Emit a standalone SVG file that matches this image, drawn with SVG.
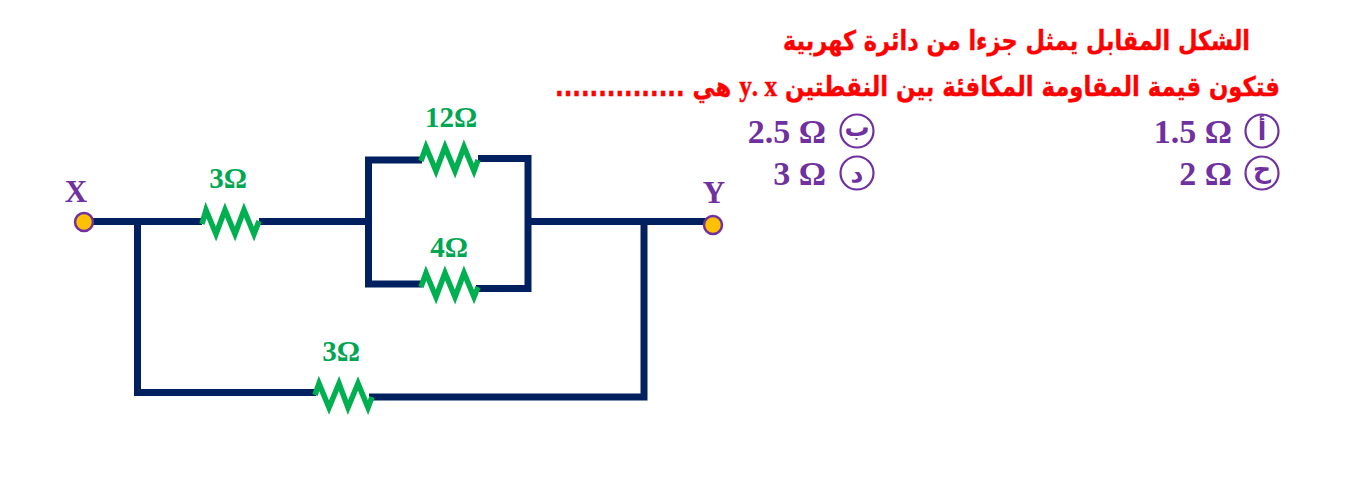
<svg xmlns="http://www.w3.org/2000/svg" width="1369" height="503" viewBox="0 0 1369 503">
<style>
.w{fill:none;stroke:#002060;stroke-width:7;stroke-linejoin:miter}
.r{fill:none;stroke:#00b050;stroke-width:5.5;stroke-linejoin:miter;stroke-miterlimit:8}
.g{font-family:"Liberation Serif",serif;font-weight:bold;font-size:29px;fill:#00a651;text-anchor:middle}
.n{font-family:"Liberation Serif",serif;font-weight:bold;font-size:31px;fill:#7030a0;text-anchor:middle}
.o{font-family:"Liberation Serif",serif;font-weight:bold;font-size:34px;fill:#7030a0;text-anchor:end}
.t{font-family:"DejaVu Sans",sans-serif;font-weight:bold;font-size:27px;fill:#ff0000;stroke:#ff0000;stroke-width:.4;text-anchor:start}
.s{font-family:"Liberation Serif",serif;font-size:30px}
.c{fill:#fff;stroke:#7030a0;stroke-width:2.2}
.l{font-family:"DejaVu Sans",sans-serif;font-weight:bold;font-size:25px;fill:#7030a0;text-anchor:middle}
.p{fill:#ffc000;stroke:#7030a0;stroke-width:2.5}
</style>
<g id="connectors">
<path class="w" d="M92 221.500H202M259 221.500H368.500M478 158.500H528V288.500H476M422 160H368.500V284H422M528 221.500H706"/>
<path class="w" d="M137.500 221.500V392.500H316M369 397H644V221.500"/>
</g>
<g id="res-3-top"><path class="r" d="M202 224L206 210L216 234L225 210L235 234L244 210L254 234L259 221"/><text class="g" x="228" y="188">3Ω</text></g>
<g id="res-12"><path class="r" d="M421 161L426 147L436 171L445 147L455 171L464 147L474 171L478 160"/><text class="g" x="451" y="127">12Ω</text></g>
<g id="res-4"><path class="r" d="M421 287L426 273L436 297L445 273L455 297L464 273L474 297L478 287"/><text class="g" x="449" y="257">4Ω</text></g>
<g id="res-3-bottom"><path class="r" d="M315 395L319 383.500L329 407.500L339 383.500L348 407.500L358 383.500L368 407.500L372 397"/><text class="g" x="341" y="361">3Ω</text></g>
<g id="node-x"><circle class="p" cx="84" cy="222" r="9"/><text class="n" x="76" y="202">X</text></g>
<g id="node-y"><circle class="p" cx="713" cy="225" r="9"/><text class="n" x="714" y="203">Y</text></g>
<g id="question">
<text class="t" x="1250" y="50" direction="rtl" textLength="467" lengthAdjust="spacingAndGlyphs">الشكل المقابل يمثل جزءا من دائرة كهربية</text>
<text class="t" x="1280" y="96" direction="rtl" textLength="725" lengthAdjust="spacingAndGlyphs">فتكون قيمة المقاومة المكافئة بين النقطتين <tspan class="s">x&#x200F; .y</tspan> هي ...............</text>
</g>
<g id="opt-a"><text class="o" x="1232" y="143">1.5 Ω</text><circle class="c" cx="1262" cy="131" r="16.500"/><text class="l" x="1262" y="140">أ</text></g>
<g id="opt-b"><text class="o" x="826" y="143">2.5 Ω</text><circle class="c" cx="857" cy="131" r="16.500"/><text class="l" x="857" y="136">ب</text></g>
<g id="opt-c"><text class="o" x="1232" y="185">2 Ω</text><circle class="c" cx="1262" cy="173" r="16.500"/><text class="l" x="1262" y="178">ح</text></g>
<g id="opt-d"><text class="o" x="826" y="185">3 Ω</text><circle class="c" cx="857" cy="173" r="16.500"/><text class="l" x="857" y="182">د</text></g>
</svg>
